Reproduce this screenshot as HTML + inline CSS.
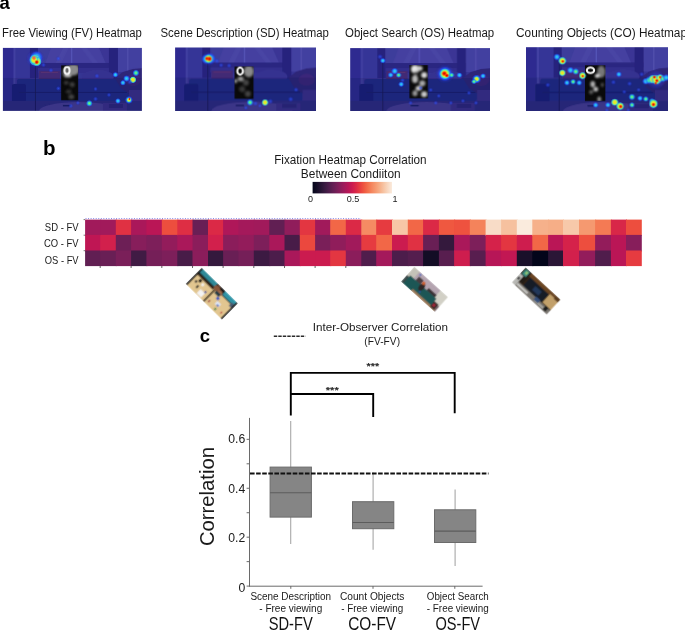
<!DOCTYPE html>
<html><head><meta charset="utf-8"><style>
html,body{margin:0;padding:0;background:#fff;}
body{width:685px;height:630px;overflow:hidden;position:relative;font-family:"Liberation Sans", sans-serif;}
svg{position:absolute;left:0;top:0;will-change:transform;}
text{font-family:"Liberation Sans", sans-serif;}
</style></head><body>
<svg width="685" height="630" viewBox="0 0 685 630">
<defs>
<linearGradient id="cbar" x1="0" y1="0" x2="1" y2="0">
<stop offset="0.00" stop-color="#03051a"/>
<stop offset="0.05" stop-color="#130d25"/>
<stop offset="0.10" stop-color="#251433"/>
<stop offset="0.15" stop-color="#381a40"/>
<stop offset="0.20" stop-color="#4c1d4b"/>
<stop offset="0.25" stop-color="#611f53"/>
<stop offset="0.30" stop-color="#751f58"/>
<stop offset="0.35" stop-color="#8b1d5b"/>
<stop offset="0.40" stop-color="#a11a5b"/>
<stop offset="0.45" stop-color="#b71657"/>
<stop offset="0.50" stop-color="#cb1b4f"/>
<stop offset="0.55" stop-color="#db2946"/>
<stop offset="0.60" stop-color="#e83f3f"/>
<stop offset="0.65" stop-color="#ef5840"/>
<stop offset="0.70" stop-color="#f3714d"/>
<stop offset="0.75" stop-color="#f58860"/>
<stop offset="0.80" stop-color="#f69c73"/>
<stop offset="0.85" stop-color="#f6b18b"/>
<stop offset="0.90" stop-color="#f7c6a6"/>
<stop offset="0.95" stop-color="#f8d9c3"/>
<stop offset="1.00" stop-color="#faebdd"/>
</linearGradient>
<filter id="soft" x="-5%" y="-5%" width="110%" height="110%"><feGaussianBlur stdDeviation="0.6"/></filter>
<filter id="blur1" x="-20%" y="-20%" width="140%" height="140%"><feGaussianBlur stdDeviation="0.9"/></filter>
<filter id="blur3" x="-30%" y="-30%" width="160%" height="160%"><feGaussianBlur stdDeviation="0.35"/></filter>
<filter id="tblur" x="-5%" y="-5%" width="110%" height="110%"><feGaussianBlur stdDeviation="0.9"/></filter>
<filter id="blur2" x="-5%" y="-5%" width="110%" height="110%"><feGaussianBlur stdDeviation="0.75"/></filter>
<radialGradient id="hb"><stop offset="0" stop-color="#3058ff" stop-opacity="0.75"/><stop offset="0.55" stop-color="#2a44e8" stop-opacity="0.4"/><stop offset="1" stop-color="#2030e0" stop-opacity="0"/></radialGradient>
<radialGradient id="hc"><stop offset="0" stop-color="#30e8e0"/><stop offset="0.45" stop-color="#2aa0ff"/><stop offset="0.8" stop-color="#2050ff" stop-opacity="0.6"/><stop offset="1" stop-color="#2040f0" stop-opacity="0"/></radialGradient>
<radialGradient id="hg"><stop offset="0" stop-color="#90ff50"/><stop offset="0.4" stop-color="#30e0c0"/><stop offset="0.75" stop-color="#2070ff" stop-opacity="0.7"/><stop offset="1" stop-color="#2040f0" stop-opacity="0"/></radialGradient>
<radialGradient id="hy"><stop offset="0" stop-color="#ffd820"/><stop offset="0.45" stop-color="#e0f030"/><stop offset="0.68" stop-color="#60f0a0"/><stop offset="0.85" stop-color="#30b0f0" stop-opacity="0.8"/><stop offset="1" stop-color="#2060f0" stop-opacity="0"/></radialGradient>
<radialGradient id="hp"><stop offset="0" stop-color="#f05050"/><stop offset="0.6" stop-color="#f07040" stop-opacity="0.8"/><stop offset="1" stop-color="#ffc000" stop-opacity="0"/></radialGradient>
<radialGradient id="hr"><stop offset="0" stop-color="#c00000"/><stop offset="0.5" stop-color="#ff3000"/><stop offset="1" stop-color="#ff8000" stop-opacity="0"/></radialGradient>
</defs>
<!-- panel labels -->
<text x="-0.6" y="9.2" font-size="18.5" font-weight="bold" text-anchor="start" fill="#000" >a</text>
<text x="42.9" y="154.8" font-size="20.5" font-weight="bold" text-anchor="start" fill="#000" >b</text>
<text x="199.8" y="341.5" font-size="18.5" font-weight="bold" text-anchor="start" fill="#000" >c</text>
<!-- section a titles -->
<text x="2.1" y="36.5" font-size="12" font-weight="normal" text-anchor="start" fill="#1a1a1a" textLength="139.8" lengthAdjust="spacingAndGlyphs" >Free Viewing (FV) Heatmap</text>
<text x="160.5" y="36.8" font-size="12" font-weight="normal" text-anchor="start" fill="#1a1a1a" textLength="168.4" lengthAdjust="spacingAndGlyphs" >Scene Description (SD) Heatmap</text>
<text x="345" y="36.5" font-size="12" font-weight="normal" text-anchor="start" fill="#1a1a1a" textLength="149.2" lengthAdjust="spacingAndGlyphs" >Object Search (OS) Heatmap</text>
<text x="516" y="36.5" font-size="12" font-weight="normal" text-anchor="start" fill="#1a1a1a" textLength="171" lengthAdjust="spacingAndGlyphs" >Counting Objects (CO) Heatmap</text>
<g transform="translate(2.9,47.9) scale(1.0000,1.0000)">
<svg x="0" y="0" width="138.6" height="62.8" overflow="hidden"><g filter="url(#soft)">
<rect x="-2" y="-2" width="144" height="67" fill="#3a389c"/>
<rect x="-2" y="-2" width="13.5" height="67" fill="#302f98"/>
<rect x="10.5" y="0" width="2.2" height="63" fill="#4846ac"/>
<rect x="12.7" y="0" width="14.3" height="40" fill="#3a38a0"/>
<rect x="27" y="0" width="8.5" height="30" fill="#282684"/>
<rect x="35" y="0" width="71" height="16" fill="#4a46aa"/>
<polygon points="35,0 48,0 42,16 35,16" fill="#4240a4"/>
<polygon points="60,0 66,0 58,16 52,16" fill="#4e4aae"/>
<polygon points="78,0 84,0 96,16 90,16" fill="#4e4aae"/>
<polygon points="96,0 106,0 106,16 103,16" fill="#3e3a9e"/>
<rect x="68" y="0" width="1.3" height="16" fill="#5c5ac2"/>
<rect x="35" y="15" width="80" height="5" fill="#2e2a88"/>
<rect x="35" y="20" width="80" height="5" fill="#363294"/>
<rect x="106" y="0" width="9" height="33" fill="#2a2784"/>
<rect x="115" y="0" width="27" height="24" fill="#4844aa"/>
<rect x="124" y="0" width="1.5" height="24" fill="#5654b6"/>
<rect x="36" y="23" width="21" height="10" fill="#482c7a"/>
<rect x="38" y="24" width="17" height="1" fill="#603478"/>
<ellipse cx="95" cy="29" rx="16" ry="7" fill="#3a3498"/>
<rect x="14" y="31" width="112" height="22" fill="#222e8e" rx="2"/>
<rect x="9" y="36" width="14" height="22" fill="#1c2480" rx="2"/>
<rect x="16" y="44" width="108" height="1" fill="#1a2276"/>
<polygon points="112,30 120,24 130,21 142,20 142,50 128,47 118,40" fill="#30287e"/>
<ellipse cx="130" cy="32" rx="8" ry="6" fill="#3e2a80"/>
<rect x="126" y="42" width="16" height="12" fill="#3a3292"/>
<rect x="-2" y="53" width="144" height="12" fill="#2c2c88"/>
<ellipse cx="76" cy="63" rx="40" ry="9" fill="#48409c"/>
<rect x="100" y="55" width="24" height="8" fill="#3a3692"/>
<rect x="106" y="56" width="14" height="4" fill="#2c2a84"/>
<rect x="60" y="57" width="8" height="1.4" fill="#1c2270"/>
<rect x="32" y="10" width="0.8" height="53" fill="#1c1c5e"/>
<rect x="-2" y="-2" width="144" height="67" fill="#0a0a30" opacity="0.08"/>
<rect x="-2" y="30" width="144" height="35" fill="#0a0a30" opacity="0.12"/>
</g>
<rect x="58.2" y="17.4" width="17.0" height="34.9" fill="#0a0a0a"/>
<svg x="58.2" y="17.4" width="17.0" height="34.9" overflow="hidden"><g filter="url(#blur1)">
<ellipse cx="12.24" cy="4.19" rx="6" ry="6" fill="#8a8a8a"/>
<ellipse cx="5.10" cy="6.98" rx="4" ry="5" fill="#666"/>
<ellipse cx="6.80" cy="10.47" rx="3.5" ry="1.6" fill="#cccccc"/>
<ellipse cx="5.10" cy="17.45" rx="2.5" ry="2" fill="#3a3a3a"/>
<ellipse cx="11.05" cy="19.20" rx="2.5" ry="2.5" fill="#404040"/>
<ellipse cx="7.65" cy="26.17" rx="3" ry="2" fill="#333"/>
<ellipse cx="10.20" cy="31.41" rx="3" ry="2.5" fill="#444"/>
</g><g filter="url(#blur3)">
<ellipse cx="5.95" cy="5.23" rx="2.6" ry="3.4" fill="none" stroke="#f8f8f8" stroke-width="2"/>
</g></svg>
<g filter="url(#blur2)">
<circle cx="32.5" cy="11" r="9.5" fill="url(#hb)"/>
<circle cx="33.5" cy="9.5" r="6.5" fill="url(#hc)"/>
<circle cx="32" cy="12" r="6" fill="url(#hy)"/>
<circle cx="33.8" cy="13.5" r="5" fill="url(#hy)"/>
<circle cx="31.2" cy="12" r="4.5" fill="url(#hy)"/>
<circle cx="31" cy="10" r="2.4" fill="url(#hp)"/>
<circle cx="33.8" cy="14.2" r="2.4" fill="url(#hr)"/>
<circle cx="55.4" cy="10.7" r="2.53" fill="url(#hb)"/>
<circle cx="40.5" cy="17" r="2.53" fill="url(#hb)"/>
<circle cx="48" cy="22.4" r="2.53" fill="url(#hb)"/>
<circle cx="94" cy="28" r="2.53" fill="url(#hb)"/>
<circle cx="55.4" cy="40.5" r="2.53" fill="url(#hb)"/>
<circle cx="92.6" cy="41" r="2.3" fill="url(#hb)"/>
<circle cx="106" cy="47" r="2.3" fill="url(#hb)"/>
<circle cx="112.5" cy="26.8" r="2.88" fill="url(#hc)"/>
<circle cx="123.6" cy="30.6" r="3.45" fill="url(#hc)"/>
<circle cx="130" cy="31.8" r="3.45" fill="url(#hy)"/>
<circle cx="133" cy="25" r="3.45" fill="url(#hg)"/>
<circle cx="120" cy="34.8" r="2.88" fill="url(#hc)"/>
<circle cx="127" cy="34" r="2.88" fill="url(#hb)"/>
<circle cx="126" cy="52" r="4.02" fill="url(#hc)"/>
<circle cx="126" cy="52" r="2.53" fill="url(#hy)"/>
<circle cx="126.5" cy="51" r="1.38" fill="url(#hr)"/>
<circle cx="86.4" cy="55.4" r="3.45" fill="url(#hg)"/>
<circle cx="92.6" cy="51" r="2.53" fill="url(#hb)"/>
<circle cx="115" cy="53" r="2.88" fill="url(#hc)"/>
<circle cx="67.8" cy="58" r="2.53" fill="url(#hb)"/>
<circle cx="75" cy="55" r="2.3" fill="url(#hb)"/>
</g>
</svg></g>
<g transform="translate(175.1,47.5) scale(1.0115,1.0048)">
<svg x="0" y="0" width="138.6" height="62.8" overflow="hidden"><g filter="url(#soft)">
<rect x="-2" y="-2" width="144" height="67" fill="#3a389c"/>
<rect x="-2" y="-2" width="13.5" height="67" fill="#302f98"/>
<rect x="10.5" y="0" width="2.2" height="63" fill="#4846ac"/>
<rect x="12.7" y="0" width="14.3" height="40" fill="#3a38a0"/>
<rect x="27" y="0" width="8.5" height="30" fill="#282684"/>
<rect x="35" y="0" width="71" height="16" fill="#4a46aa"/>
<polygon points="35,0 48,0 42,16 35,16" fill="#4240a4"/>
<polygon points="60,0 66,0 58,16 52,16" fill="#4e4aae"/>
<polygon points="78,0 84,0 96,16 90,16" fill="#4e4aae"/>
<polygon points="96,0 106,0 106,16 103,16" fill="#3e3a9e"/>
<rect x="68" y="0" width="1.3" height="16" fill="#5c5ac2"/>
<rect x="35" y="15" width="80" height="5" fill="#2e2a88"/>
<rect x="35" y="20" width="80" height="5" fill="#363294"/>
<rect x="106" y="0" width="9" height="33" fill="#2a2784"/>
<rect x="115" y="0" width="27" height="24" fill="#4844aa"/>
<rect x="124" y="0" width="1.5" height="24" fill="#5654b6"/>
<rect x="36" y="23" width="21" height="10" fill="#482c7a"/>
<rect x="38" y="24" width="17" height="1" fill="#603478"/>
<ellipse cx="95" cy="29" rx="16" ry="7" fill="#3a3498"/>
<rect x="14" y="31" width="112" height="22" fill="#222e8e" rx="2"/>
<rect x="9" y="36" width="14" height="22" fill="#1c2480" rx="2"/>
<rect x="16" y="44" width="108" height="1" fill="#1a2276"/>
<polygon points="112,30 120,24 130,21 142,20 142,50 128,47 118,40" fill="#30287e"/>
<ellipse cx="130" cy="32" rx="8" ry="6" fill="#3e2a80"/>
<rect x="126" y="42" width="16" height="12" fill="#3a3292"/>
<rect x="-2" y="53" width="144" height="12" fill="#2c2c88"/>
<ellipse cx="76" cy="63" rx="40" ry="9" fill="#48409c"/>
<rect x="100" y="55" width="24" height="8" fill="#3a3692"/>
<rect x="106" y="56" width="14" height="4" fill="#2c2a84"/>
<rect x="60" y="57" width="8" height="1.4" fill="#1c2270"/>
<rect x="32" y="10" width="0.8" height="53" fill="#1c1c5e"/>
<rect x="-2" y="-2" width="144" height="67" fill="#0a0a30" opacity="0.08"/>
<rect x="-2" y="30" width="144" height="35" fill="#0a0a30" opacity="0.12"/>
</g>
<rect x="58.8" y="19.0" width="18.7" height="32.0" fill="#0a0a0a"/>
<svg x="58.8" y="19.0" width="18.7" height="32.0" overflow="hidden"><g filter="url(#blur1)">
<ellipse cx="14.02" cy="4.80" rx="5" ry="6" fill="#8a8a8a"/>
<ellipse cx="5.98" cy="12.16" rx="3" ry="2.5" fill="#999"/>
<ellipse cx="0.94" cy="14.40" rx="1.5" ry="2" fill="#bbb"/>
<ellipse cx="11.22" cy="16.00" rx="3" ry="3" fill="#444"/>
<ellipse cx="7.48" cy="22.40" rx="3" ry="3" fill="#3a3a3a"/>
<ellipse cx="13.09" cy="27.20" rx="3" ry="3" fill="#444"/>
</g><g filter="url(#blur3)">
<ellipse cx="5.42" cy="4.48" rx="2.8" ry="3.4" fill="none" stroke="#f8f8f8" stroke-width="2"/>
</g></svg>
<g filter="url(#blur2)">
<circle cx="33" cy="11.3" r="7.5" fill="url(#hb)"/>
<circle cx="34.5" cy="11" r="5.5" fill="url(#hc)"/>
<circle cx="31" cy="11.5" r="5" fill="url(#hc)"/>
<circle cx="33" cy="11.3" r="4.6" fill="url(#hy)"/>
<circle cx="34" cy="11.3" r="2.8" fill="url(#hr)"/>
<circle cx="31.5" cy="11" r="2.2" fill="url(#hr)"/>
<circle cx="41.3" cy="13.4" r="2.76" fill="url(#hb)"/>
<circle cx="45.5" cy="17.6" r="2.53" fill="url(#hb)"/>
<circle cx="53.4" cy="18" r="2.53" fill="url(#hb)"/>
<circle cx="74.1" cy="54.7" r="3.45" fill="url(#hg)"/>
<circle cx="79.4" cy="55.7" r="2.76" fill="url(#hb)"/>
<circle cx="88.9" cy="54.7" r="3.45" fill="url(#hy)"/>
<circle cx="94.2" cy="53.6" r="2.76" fill="url(#hb)"/>
<circle cx="114.3" cy="51.5" r="2.76" fill="url(#hb)"/>
<circle cx="119.6" cy="42" r="2.53" fill="url(#hb)"/>
<circle cx="84" cy="58" r="2.3" fill="url(#hb)"/>
<circle cx="70" cy="60" r="2.3" fill="url(#hb)"/>
</g>
</svg></g>
<g transform="translate(350.2,48.1) scale(1.0065,0.9952)">
<svg x="0" y="0" width="138.6" height="62.8" overflow="hidden"><g filter="url(#soft)">
<rect x="-2" y="-2" width="144" height="67" fill="#3a389c"/>
<rect x="-2" y="-2" width="13.5" height="67" fill="#302f98"/>
<rect x="10.5" y="0" width="2.2" height="63" fill="#4846ac"/>
<rect x="12.7" y="0" width="14.3" height="40" fill="#3a38a0"/>
<rect x="27" y="0" width="8.5" height="30" fill="#282684"/>
<rect x="35" y="0" width="71" height="16" fill="#4a46aa"/>
<polygon points="35,0 48,0 42,16 35,16" fill="#4240a4"/>
<polygon points="60,0 66,0 58,16 52,16" fill="#4e4aae"/>
<polygon points="78,0 84,0 96,16 90,16" fill="#4e4aae"/>
<polygon points="96,0 106,0 106,16 103,16" fill="#3e3a9e"/>
<rect x="68" y="0" width="1.3" height="16" fill="#5c5ac2"/>
<rect x="35" y="15" width="80" height="5" fill="#2e2a88"/>
<rect x="35" y="20" width="80" height="5" fill="#363294"/>
<rect x="106" y="0" width="9" height="33" fill="#2a2784"/>
<rect x="115" y="0" width="27" height="24" fill="#4844aa"/>
<rect x="124" y="0" width="1.5" height="24" fill="#5654b6"/>
<rect x="36" y="23" width="21" height="10" fill="#482c7a"/>
<rect x="38" y="24" width="17" height="1" fill="#603478"/>
<ellipse cx="95" cy="29" rx="16" ry="7" fill="#3a3498"/>
<rect x="14" y="31" width="112" height="22" fill="#222e8e" rx="2"/>
<rect x="9" y="36" width="14" height="22" fill="#1c2480" rx="2"/>
<rect x="16" y="44" width="108" height="1" fill="#1a2276"/>
<polygon points="112,30 120,24 130,21 142,20 142,50 128,47 118,40" fill="#30287e"/>
<ellipse cx="130" cy="32" rx="8" ry="6" fill="#3e2a80"/>
<rect x="126" y="42" width="16" height="12" fill="#3a3292"/>
<rect x="-2" y="53" width="144" height="12" fill="#2c2c88"/>
<ellipse cx="76" cy="63" rx="40" ry="9" fill="#48409c"/>
<rect x="100" y="55" width="24" height="8" fill="#3a3692"/>
<rect x="106" y="56" width="14" height="4" fill="#2c2a84"/>
<rect x="60" y="57" width="8" height="1.4" fill="#1c2270"/>
<rect x="32" y="10" width="0.8" height="53" fill="#1c1c5e"/>
<rect x="-2" y="-2" width="144" height="67" fill="#0a0a30" opacity="0.08"/>
<rect x="-2" y="30" width="144" height="35" fill="#0a0a30" opacity="0.12"/>
</g>
<rect x="58.9" y="17.1" width="18.2" height="33.3" fill="#0a0a0a"/>
<svg x="58.9" y="17.1" width="18.2" height="33.3" overflow="hidden"><g filter="url(#blur1)">
<ellipse cx="5.46" cy="4.00" rx="4" ry="4" fill="#e8e8e8"/>
<ellipse cx="10.01" cy="3.33" rx="3" ry="2.5" fill="#ccc"/>
<ellipse cx="14.56" cy="9.99" rx="3" ry="3" fill="#ddd"/>
<ellipse cx="5.46" cy="13.99" rx="3" ry="4" fill="#bbb"/>
<ellipse cx="12.74" cy="18.32" rx="3" ry="3" fill="#aaa"/>
<ellipse cx="9.10" cy="23.31" rx="3" ry="2.5" fill="#ccc"/>
<ellipse cx="5.46" cy="28.30" rx="2.5" ry="3" fill="#999"/>
<ellipse cx="14.56" cy="29.30" rx="3" ry="3" fill="#ccc"/>
<ellipse cx="6.37" cy="8.32" rx="2" ry="2" fill="#444"/>
</g><g filter="url(#blur3)">
</g></svg>
<g filter="url(#blur2)">
<circle cx="29.7" cy="8.7" r="2.88" fill="url(#hb)"/>
<circle cx="32.4" cy="12.6" r="2.88" fill="url(#hc)"/>
<circle cx="44.2" cy="23.1" r="3.45" fill="url(#hc)"/>
<circle cx="48.1" cy="27.1" r="2.88" fill="url(#hg)"/>
<circle cx="40.2" cy="27" r="2.88" fill="url(#hc)"/>
<circle cx="52" cy="32.3" r="2.53" fill="url(#hb)"/>
<circle cx="94.1" cy="25.8" r="9.77" fill="url(#hb)"/>
<circle cx="94.1" cy="25.8" r="7.47" fill="url(#hc)"/>
<circle cx="94.1" cy="25.8" r="5.75" fill="url(#hy)"/>
<circle cx="93.5" cy="25.5" r="2.99" fill="url(#hr)"/>
<circle cx="96" cy="27.5" r="2.3" fill="url(#hr)"/>
<circle cx="100.7" cy="27.1" r="2.88" fill="url(#hg)"/>
<circle cx="108.5" cy="27.1" r="2.88" fill="url(#hc)"/>
<circle cx="125.6" cy="31" r="4.6" fill="url(#hc)"/>
<circle cx="125.6" cy="31" r="2.99" fill="url(#hy)"/>
<circle cx="123" cy="33.6" r="2.76" fill="url(#hg)"/>
<circle cx="132" cy="28" r="2.88" fill="url(#hc)"/>
<circle cx="50.7" cy="36.3" r="2.88" fill="url(#hc)"/>
<circle cx="80" cy="42" r="2.3" fill="url(#hb)"/>
<circle cx="88" cy="48" r="2.3" fill="url(#hb)"/>
<circle cx="85" cy="55" r="2.3" fill="url(#hb)"/>
<circle cx="100" cy="55" r="2.3" fill="url(#hb)"/>
<circle cx="112" cy="53" r="2.3" fill="url(#hb)"/>
<circle cx="118" cy="45" r="2.3" fill="url(#hb)"/>
<circle cx="125" cy="55" r="2.3" fill="url(#hb)"/>
<circle cx="60" cy="55" r="2.3" fill="url(#hb)"/>
<circle cx="70" cy="40" r="2.3" fill="url(#hb)"/>
</g>
</svg></g>
<g transform="translate(526,47.2) scale(1.0238,1.0159)">
<svg x="0" y="0" width="138.6" height="62.8" overflow="hidden"><g filter="url(#soft)">
<rect x="-2" y="-2" width="144" height="67" fill="#3a389c"/>
<rect x="-2" y="-2" width="13.5" height="67" fill="#302f98"/>
<rect x="10.5" y="0" width="2.2" height="63" fill="#4846ac"/>
<rect x="12.7" y="0" width="14.3" height="40" fill="#3a38a0"/>
<rect x="27" y="0" width="8.5" height="30" fill="#282684"/>
<rect x="35" y="0" width="71" height="16" fill="#4a46aa"/>
<polygon points="35,0 48,0 42,16 35,16" fill="#4240a4"/>
<polygon points="60,0 66,0 58,16 52,16" fill="#4e4aae"/>
<polygon points="78,0 84,0 96,16 90,16" fill="#4e4aae"/>
<polygon points="96,0 106,0 106,16 103,16" fill="#3e3a9e"/>
<rect x="68" y="0" width="1.3" height="16" fill="#5c5ac2"/>
<rect x="35" y="15" width="80" height="5" fill="#2e2a88"/>
<rect x="35" y="20" width="80" height="5" fill="#363294"/>
<rect x="106" y="0" width="9" height="33" fill="#2a2784"/>
<rect x="115" y="0" width="27" height="24" fill="#4844aa"/>
<rect x="124" y="0" width="1.5" height="24" fill="#5654b6"/>
<rect x="36" y="23" width="21" height="10" fill="#482c7a"/>
<rect x="38" y="24" width="17" height="1" fill="#603478"/>
<ellipse cx="95" cy="29" rx="16" ry="7" fill="#3a3498"/>
<rect x="14" y="31" width="112" height="22" fill="#222e8e" rx="2"/>
<rect x="9" y="36" width="14" height="22" fill="#1c2480" rx="2"/>
<rect x="16" y="44" width="108" height="1" fill="#1a2276"/>
<polygon points="112,30 120,24 130,21 142,20 142,50 128,47 118,40" fill="#30287e"/>
<ellipse cx="130" cy="32" rx="8" ry="6" fill="#3e2a80"/>
<rect x="126" y="42" width="16" height="12" fill="#3a3292"/>
<rect x="-2" y="53" width="144" height="12" fill="#2c2c88"/>
<ellipse cx="76" cy="63" rx="40" ry="9" fill="#48409c"/>
<rect x="100" y="55" width="24" height="8" fill="#3a3692"/>
<rect x="106" y="56" width="14" height="4" fill="#2c2a84"/>
<rect x="60" y="57" width="8" height="1.4" fill="#1c2270"/>
<rect x="32" y="10" width="0.8" height="53" fill="#1c1c5e"/>
<rect x="-2" y="-2" width="144" height="67" fill="#0a0a30" opacity="0.08"/>
<rect x="-2" y="30" width="144" height="35" fill="#0a0a30" opacity="0.12"/>
</g>
<rect x="57.6" y="17.8" width="19.9" height="35.099999999999994" fill="#0a0a0a"/>
<svg x="57.6" y="17.8" width="19.9" height="35.099999999999994" overflow="hidden"><g filter="url(#blur1)">
<ellipse cx="15.92" cy="6.32" rx="4" ry="6" fill="#777"/>
<ellipse cx="11.94" cy="10.53" rx="2.4" ry="1.8" fill="#e0e0e0"/>
<ellipse cx="7.56" cy="18.60" rx="2.4" ry="3" fill="#b0b0b0"/>
<ellipse cx="10.55" cy="23.52" rx="2.4" ry="2.4" fill="#c0c0c0"/>
<ellipse cx="13.93" cy="33.34" rx="2" ry="2.5" fill="#999"/>
<ellipse cx="16.91" cy="19.30" rx="1.5" ry="2" fill="#555"/>
<ellipse cx="5.97" cy="26.32" rx="2" ry="2" fill="#666"/>
</g><g filter="url(#blur3)">
<ellipse cx="5.37" cy="4.91" rx="3.6" ry="2.8" fill="none" stroke="#f8f8f8" stroke-width="2"/>
</g></svg>
<g filter="url(#blur2)">
<circle cx="30.2" cy="9.6" r="3.45" fill="url(#hc)"/>
<circle cx="35.5" cy="13.5" r="4.02" fill="url(#hy)"/>
<circle cx="36" cy="14" r="1.72" fill="url(#hr)"/>
<circle cx="43.4" cy="22.7" r="3.45" fill="url(#hc)"/>
<circle cx="48.6" cy="24" r="3.45" fill="url(#hg)"/>
<circle cx="35.5" cy="25.3" r="3.45" fill="url(#hy)"/>
<circle cx="55.2" cy="28" r="3.68" fill="url(#hy)"/>
<circle cx="55.5" cy="28.5" r="1.49" fill="url(#hr)"/>
<circle cx="40" cy="35" r="2.88" fill="url(#hc)"/>
<circle cx="46" cy="34" r="2.88" fill="url(#hg)"/>
<circle cx="52" cy="35" r="2.88" fill="url(#hc)"/>
<circle cx="90.7" cy="26.7" r="2.88" fill="url(#hc)"/>
<circle cx="113" cy="26.7" r="2.53" fill="url(#hb)"/>
<circle cx="127" cy="32" r="10" fill="url(#hb)"/>
<circle cx="117" cy="33.5" r="3.5" fill="url(#hc)"/>
<circle cx="120.5" cy="32.5" r="4" fill="url(#hg)"/>
<circle cx="124" cy="31.5" r="4.5" fill="url(#hy)"/>
<circle cx="127.5" cy="32" r="5" fill="url(#hy)"/>
<circle cx="131" cy="30.5" r="4" fill="url(#hy)"/>
<circle cx="134" cy="31" r="3.5" fill="url(#hg)"/>
<circle cx="137" cy="30" r="3.5" fill="url(#hc)"/>
<circle cx="125.5" cy="29.5" r="1.8" fill="url(#hr)"/>
<circle cx="127.8" cy="33" r="1.9" fill="url(#hr)"/>
<circle cx="126.8" cy="35.5" r="1.5" fill="url(#hr)"/>
<circle cx="131" cy="29.5" r="1.4" fill="url(#hr)"/>
<circle cx="103.5" cy="49" r="3.45" fill="url(#hg)"/>
<circle cx="111.4" cy="50.3" r="2.88" fill="url(#hc)"/>
<circle cx="117" cy="51" r="2.88" fill="url(#hg)"/>
<circle cx="123" cy="53" r="2.88" fill="url(#hg)"/>
<circle cx="124.5" cy="55.7" r="4.6" fill="url(#hy)"/>
<circle cx="124.5" cy="56.5" r="2.1" fill="url(#hr)"/>
<circle cx="86.7" cy="54.2" r="3.68" fill="url(#hy)"/>
<circle cx="92" cy="58.1" r="4.02" fill="url(#hy)"/>
<circle cx="92.5" cy="58.5" r="2.07" fill="url(#hr)"/>
<circle cx="80" cy="56.9" r="2.88" fill="url(#hc)"/>
<circle cx="68" cy="57" r="2.88" fill="url(#hc)"/>
<circle cx="103.5" cy="56.9" r="2.88" fill="url(#hg)"/>
<circle cx="79" cy="62" r="2.3" fill="url(#hb)"/>
<circle cx="100" cy="62" r="2.3" fill="url(#hb)"/>
<circle cx="85.4" cy="34.5" r="2.53" fill="url(#hb)"/>
<circle cx="101.2" cy="35.9" r="2.53" fill="url(#hb)"/>
<circle cx="21.3" cy="37.2" r="2.53" fill="url(#hb)"/>
<circle cx="110" cy="42" r="2.3" fill="url(#hb)"/>
<circle cx="96" cy="44" r="2.3" fill="url(#hb)"/>
</g>
</svg></g>
<!-- colorbar -->
<text x="350.4" y="163.8" font-size="12.2" font-weight="normal" text-anchor="middle" fill="#1a1a1a" textLength="152.5" lengthAdjust="spacingAndGlyphs" >Fixation Heatmap Correlation</text>
<text x="350.75" y="178.2" font-size="12.2" font-weight="normal" text-anchor="middle" fill="#1a1a1a" textLength="99.8" lengthAdjust="spacingAndGlyphs" >Between Condiiton</text>
<rect x="312.6" y="181.9" width="79.4" height="11.5" fill="url(#cbar)"/>
<text x="310.55" y="202.4" font-size="9" font-weight="normal" text-anchor="middle" fill="#1a1a1a" >0</text>
<text x="353.05" y="202.4" font-size="9" font-weight="normal" text-anchor="middle" fill="#1a1a1a" textLength="12.6" lengthAdjust="spacingAndGlyphs" >0.5</text>
<text x="394.9" y="202.4" font-size="9" font-weight="normal" text-anchor="middle" fill="#1a1a1a" >1</text>
<!-- heatmap -->
<rect x="85.10" y="219.60" width="16.10" height="16.30" fill="#a11a5b"/>
<rect x="85.10" y="234.90" width="16.10" height="16.60" fill="#bf1654"/>
<rect x="85.10" y="250.50" width="16.10" height="15.60" fill="#611f53"/>
<rect x="100.20" y="219.60" width="16.60" height="16.30" fill="#a11a5b"/>
<rect x="100.20" y="234.90" width="16.60" height="16.60" fill="#d2204c"/>
<rect x="100.20" y="250.50" width="16.60" height="15.60" fill="#691f55"/>
<rect x="115.80" y="219.60" width="16.30" height="16.30" fill="#e03143"/>
<rect x="115.80" y="234.90" width="16.30" height="16.60" fill="#6d1f56"/>
<rect x="115.80" y="250.50" width="16.30" height="15.60" fill="#7a1f59"/>
<rect x="131.10" y="219.60" width="16.30" height="16.30" fill="#aa185a"/>
<rect x="131.10" y="234.90" width="16.30" height="16.60" fill="#871e5b"/>
<rect x="131.10" y="250.50" width="16.30" height="15.60" fill="#401b44"/>
<rect x="146.40" y="219.60" width="16.40" height="16.30" fill="#ba1656"/>
<rect x="146.40" y="234.90" width="16.40" height="16.60" fill="#7d1f5a"/>
<rect x="146.40" y="250.50" width="16.40" height="15.60" fill="#751f58"/>
<rect x="161.80" y="219.60" width="16.50" height="16.30" fill="#ed4e3e"/>
<rect x="161.80" y="234.90" width="16.50" height="16.60" fill="#931c5b"/>
<rect x="161.80" y="250.50" width="16.50" height="15.60" fill="#7d1f5a"/>
<rect x="177.30" y="219.60" width="16.20" height="16.30" fill="#de2e44"/>
<rect x="177.30" y="234.90" width="16.20" height="16.60" fill="#aa185a"/>
<rect x="177.30" y="250.50" width="16.20" height="15.60" fill="#481c48"/>
<rect x="192.50" y="219.60" width="16.50" height="16.30" fill="#691f55"/>
<rect x="192.50" y="234.90" width="16.50" height="16.60" fill="#8b1d5b"/>
<rect x="192.50" y="250.50" width="16.50" height="15.60" fill="#8b1d5b"/>
<rect x="208.00" y="219.60" width="16.10" height="16.30" fill="#db2946"/>
<rect x="208.00" y="234.90" width="16.10" height="16.60" fill="#d2204c"/>
<rect x="208.00" y="250.50" width="16.10" height="15.60" fill="#34193d"/>
<rect x="223.10" y="219.60" width="16.30" height="16.30" fill="#af1759"/>
<rect x="223.10" y="234.90" width="16.30" height="16.60" fill="#8b1d5b"/>
<rect x="223.10" y="250.50" width="16.30" height="15.60" fill="#691f55"/>
<rect x="238.40" y="219.60" width="16.40" height="16.30" fill="#a4195b"/>
<rect x="238.40" y="234.90" width="16.40" height="16.60" fill="#931c5b"/>
<rect x="238.40" y="250.50" width="16.40" height="15.60" fill="#751f58"/>
<rect x="253.80" y="219.60" width="16.50" height="16.30" fill="#a11a5b"/>
<rect x="253.80" y="234.90" width="16.50" height="16.60" fill="#7d1f5a"/>
<rect x="253.80" y="250.50" width="16.50" height="15.60" fill="#3c1a42"/>
<rect x="269.30" y="219.60" width="16.20" height="16.30" fill="#611f53"/>
<rect x="269.30" y="234.90" width="16.20" height="16.60" fill="#aa185a"/>
<rect x="269.30" y="250.50" width="16.20" height="15.60" fill="#4c1d4b"/>
<rect x="284.50" y="219.60" width="16.30" height="16.30" fill="#901d5b"/>
<rect x="284.50" y="234.90" width="16.30" height="16.60" fill="#481c48"/>
<rect x="284.50" y="250.50" width="16.30" height="15.60" fill="#aa185a"/>
<rect x="299.80" y="219.60" width="16.30" height="16.30" fill="#e33641"/>
<rect x="299.80" y="234.90" width="16.30" height="16.60" fill="#eb483e"/>
<rect x="299.80" y="250.50" width="16.30" height="15.60" fill="#cb1b4f"/>
<rect x="315.10" y="219.60" width="16.10" height="16.30" fill="#a11a5b"/>
<rect x="315.10" y="234.90" width="16.10" height="16.60" fill="#7a1f59"/>
<rect x="315.10" y="250.50" width="16.10" height="15.60" fill="#cb1b4f"/>
<rect x="330.20" y="219.60" width="16.60" height="16.30" fill="#f26747"/>
<rect x="330.20" y="234.90" width="16.60" height="16.60" fill="#901d5b"/>
<rect x="330.20" y="250.50" width="16.60" height="15.60" fill="#e33641"/>
<rect x="345.80" y="219.60" width="16.50" height="16.30" fill="#db2946"/>
<rect x="345.80" y="234.90" width="16.50" height="16.60" fill="#a11a5b"/>
<rect x="345.80" y="250.50" width="16.50" height="15.60" fill="#8b1d5b"/>
<rect x="361.30" y="219.60" width="15.90" height="16.30" fill="#f58b63"/>
<rect x="361.30" y="234.90" width="15.90" height="16.60" fill="#e63b40"/>
<rect x="361.30" y="250.50" width="15.90" height="15.60" fill="#501d4c"/>
<rect x="376.20" y="219.60" width="16.80" height="16.30" fill="#e63b40"/>
<rect x="376.20" y="234.90" width="16.80" height="16.60" fill="#f26747"/>
<rect x="376.20" y="250.50" width="16.80" height="15.60" fill="#a4195b"/>
<rect x="392.00" y="219.60" width="16.80" height="16.30" fill="#f7c6a6"/>
<rect x="392.00" y="234.90" width="16.80" height="16.60" fill="#cb1b4f"/>
<rect x="392.00" y="250.50" width="16.80" height="15.60" fill="#4c1d4b"/>
<rect x="407.80" y="219.60" width="16.30" height="16.30" fill="#f26747"/>
<rect x="407.80" y="234.90" width="16.30" height="16.60" fill="#e03143"/>
<rect x="407.80" y="250.50" width="16.30" height="15.60" fill="#541e4e"/>
<rect x="423.10" y="219.60" width="16.80" height="16.30" fill="#db2946"/>
<rect x="423.10" y="234.90" width="16.80" height="16.60" fill="#691f55"/>
<rect x="423.10" y="250.50" width="16.80" height="15.60" fill="#130d25"/>
<rect x="438.90" y="219.60" width="16.20" height="16.30" fill="#ef5840"/>
<rect x="438.90" y="234.90" width="16.20" height="16.60" fill="#34193d"/>
<rect x="438.90" y="250.50" width="16.20" height="15.60" fill="#581e4f"/>
<rect x="454.10" y="219.60" width="16.70" height="16.30" fill="#ee523f"/>
<rect x="454.10" y="234.90" width="16.70" height="16.60" fill="#aa185a"/>
<rect x="454.10" y="250.50" width="16.70" height="15.60" fill="#ce1d4e"/>
<rect x="469.80" y="219.60" width="16.80" height="16.30" fill="#f4835b"/>
<rect x="469.80" y="234.90" width="16.80" height="16.60" fill="#7d1f5a"/>
<rect x="469.80" y="250.50" width="16.80" height="15.60" fill="#581e4f"/>
<rect x="485.60" y="219.60" width="16.50" height="16.30" fill="#f8dcc7"/>
<rect x="485.60" y="234.90" width="16.50" height="16.60" fill="#d5224a"/>
<rect x="485.60" y="250.50" width="16.50" height="15.60" fill="#b71657"/>
<rect x="501.10" y="219.60" width="16.70" height="16.30" fill="#f6c19f"/>
<rect x="501.10" y="234.90" width="16.70" height="16.60" fill="#e33641"/>
<rect x="501.10" y="250.50" width="16.70" height="15.60" fill="#c21753"/>
<rect x="516.80" y="219.60" width="16.50" height="16.30" fill="#faebdd"/>
<rect x="516.80" y="234.90" width="16.50" height="16.60" fill="#ce1d4e"/>
<rect x="516.80" y="250.50" width="16.50" height="15.60" fill="#1a102a"/>
<rect x="532.30" y="219.60" width="16.80" height="16.30" fill="#f6b18b"/>
<rect x="532.30" y="234.90" width="16.80" height="16.60" fill="#f26747"/>
<rect x="532.30" y="250.50" width="16.80" height="15.60" fill="#03051a"/>
<rect x="548.10" y="219.60" width="15.90" height="16.30" fill="#f6ae87"/>
<rect x="548.10" y="234.90" width="15.90" height="16.60" fill="#ba1656"/>
<rect x="548.10" y="250.50" width="15.90" height="15.60" fill="#2a1636"/>
<rect x="563.00" y="219.60" width="17.00" height="16.30" fill="#f7c9aa"/>
<rect x="563.00" y="234.90" width="17.00" height="16.60" fill="#d5224a"/>
<rect x="563.00" y="250.50" width="17.00" height="15.60" fill="#d2204c"/>
<rect x="579.00" y="219.60" width="17.10" height="16.30" fill="#f59970"/>
<rect x="579.00" y="234.90" width="17.10" height="16.60" fill="#ed4e3e"/>
<rect x="579.00" y="250.50" width="17.10" height="15.60" fill="#931c5b"/>
<rect x="595.10" y="219.60" width="16.80" height="16.30" fill="#f47a54"/>
<rect x="595.10" y="234.90" width="16.80" height="16.60" fill="#931c5b"/>
<rect x="595.10" y="250.50" width="16.80" height="15.60" fill="#501d4c"/>
<rect x="610.90" y="219.60" width="16.10" height="16.30" fill="#d82748"/>
<rect x="610.90" y="234.90" width="16.10" height="16.60" fill="#ba1656"/>
<rect x="610.90" y="250.50" width="16.10" height="15.60" fill="#ba1656"/>
<rect x="626.00" y="219.60" width="15.80" height="16.30" fill="#ed4e3e"/>
<rect x="626.00" y="234.90" width="15.80" height="16.60" fill="#871e5b"/>
<rect x="626.00" y="250.50" width="15.80" height="15.60" fill="#e63b40"/>
<line x1="85.5" y1="218.5" x2="361" y2="218.5" stroke="#8a8ae8" stroke-width="1" stroke-dasharray="1 1.55"/>
<line x1="100.20" y1="266" x2="100.20" y2="268" stroke="#666" stroke-width="1"/>
<line x1="131.10" y1="266" x2="131.10" y2="268" stroke="#666" stroke-width="1"/>
<line x1="161.80" y1="266" x2="161.80" y2="268" stroke="#666" stroke-width="1"/>
<line x1="192.50" y1="266" x2="192.50" y2="268" stroke="#666" stroke-width="1"/>
<line x1="223.10" y1="266" x2="223.10" y2="268" stroke="#666" stroke-width="1"/>
<line x1="253.80" y1="266" x2="253.80" y2="268" stroke="#666" stroke-width="1"/>
<line x1="284.50" y1="266" x2="284.50" y2="268" stroke="#666" stroke-width="1"/>
<line x1="315.10" y1="266" x2="315.10" y2="268" stroke="#666" stroke-width="1"/>
<line x1="345.80" y1="266" x2="345.80" y2="268" stroke="#666" stroke-width="1"/>
<line x1="83.6" y1="219.60000000000002" x2="85.1" y2="219.60000000000002" stroke="#555" stroke-width="0.8"/>
<line x1="83.6" y1="235.20000000000002" x2="85.1" y2="235.20000000000002" stroke="#555" stroke-width="0.8"/>
<line x1="83.6" y1="250.70000000000002" x2="85.1" y2="250.70000000000002" stroke="#555" stroke-width="0.8"/>
<g transform="translate(211.8,293.7) rotate(44.6)"><svg x="-25.40" y="-11.40" width="50.8" height="22.8" viewBox="0 0 100 40" preserveAspectRatio="none" overflow="hidden"><g filter="url(#tblur)"><rect x="0" y="0" width="100" height="40" fill="#e2c690"/><rect x="0" y="0" width="100" height="10" fill="#141414"/><rect x="0" y="0" width="44" height="8" fill="#2e8a98"/><rect x="66" y="0" width="34" height="8" fill="#2e94a6"/><rect x="0" y="0" width="4" height="40" fill="#151515"/><rect x="96" y="0" width="4" height="40" fill="#222"/><rect x="4" y="10" width="42" height="4" fill="#3a2a1a"/><rect x="47" y="8" width="3.5" height="32" fill="#201810"/><ellipse cx="50" cy="7" rx="7" ry="5" fill="#8a5638"/><ellipse cx="60" cy="10" rx="6" ry="5" fill="#a06a48"/><rect x="52" y="10" width="12" height="6" fill="#1d3a44"/><circle cx="16" cy="18" r="3.2" fill="#111"/><circle cx="11" cy="24" r="2.5" fill="#2a2a2a"/><circle cx="25" cy="20" r="2.8" fill="#f2f2f2"/><rect x="18" y="26" width="4" height="6" fill="#222"/><rect x="28" y="28" width="12" height="10" fill="#f4f4f4"/><rect x="37" y="24" width="4" height="4" fill="#3a4a9a"/><rect x="62" y="16" width="6" height="5" fill="#2850c0"/><rect x="68" y="22" width="10" height="7" fill="#dfe6f4"/><rect x="72" y="26" width="5" height="3" fill="#3060c0"/><rect x="74" y="33" width="4" height="4" fill="#3a8a4a"/><rect x="88" y="30" width="3" height="4" fill="#c04040"/><rect x="55" y="30" width="3" height="5" fill="#a03040"/><rect x="90" y="6" width="6" height="8" fill="#4a5a70"/></g></svg></g>
<g transform="translate(424.45,289.35) rotate(42)"><svg x="-22.60" y="-10.00" width="45.2" height="20" viewBox="0 0 100 40" preserveAspectRatio="none" overflow="hidden"><g filter="url(#tblur)"><rect x="0" y="0" width="100" height="40" fill="#7a6a70"/><rect x="0" y="0" width="100" height="18" fill="#b4a4b0"/><rect x="0" y="0" width="16" height="22" fill="#c4c2b8"/><rect x="0" y="22" width="10" height="18" fill="#3a4a4a"/><rect x="78" y="0" width="22" height="26" fill="#d2d0c6"/><rect x="20" y="2" width="4" height="4" fill="#5070c0"/><rect x="22" y="8" width="14" height="10" fill="#4a3a40"/><rect x="55" y="12" width="24" height="10" fill="#3a3036"/><rect x="6" y="18" width="78" height="22" fill="#1c5654"/><rect x="30" y="35" width="68" height="5" fill="#9a7a5a"/><ellipse cx="42" cy="20" rx="6" ry="9" fill="#2a2628"/><ellipse cx="40" cy="12" rx="3.5" ry="3.5" fill="#d0602a"/><circle cx="46" cy="30" r="2" fill="#3050b0"/><rect x="84" y="24" width="12" height="14" fill="#3a2a2a"/><rect x="86" y="28" width="6" height="6" fill="#a02838"/></g></svg></g>
<g transform="translate(536.2,290.9) rotate(42.7)"><svg x="-23.65" y="-10.15" width="47.3" height="20.3" viewBox="0 0 100 40" preserveAspectRatio="none" overflow="hidden"><g filter="url(#tblur)"><rect x="0" y="0" width="100" height="40" fill="#2e2219"/><rect x="0" y="0" width="100" height="8" fill="#6a4424"/><rect x="22" y="8" width="52" height="22" fill="#161c28"/><rect x="42" y="14" width="18" height="10" fill="#22385a"/><rect x="76" y="6" width="24" height="22" fill="#c2a06a"/><rect x="88" y="0" width="12" height="8" fill="#5a3a1c"/><rect x="0" y="30" width="100" height="10" fill="#7a7670"/><rect x="10" y="33" width="30" height="4" fill="#c8c8c4"/><rect x="60" y="34" width="25" height="3" fill="#b0b0aa"/><rect x="0" y="0" width="18" height="28" fill="#221c18"/><rect x="3" y="2" width="11" height="12" fill="#3a8a80"/><rect x="7" y="4" width="5" height="6" fill="#90c870"/><rect x="0" y="16" width="9" height="24" fill="#b8b8b4"/><rect x="2" y="22" width="5" height="6" fill="#3a3a3a"/><rect x="58" y="28" width="12" height="8" fill="#34507a"/><rect x="86" y="28" width="8" height="10" fill="#1a1a1a"/></g></svg></g>
<!-- row labels -->
<text x="78.6" y="231.2" font-size="10.5" font-weight="normal" text-anchor="end" fill="#1a1a1a" textLength="33.8" lengthAdjust="spacingAndGlyphs" >SD - FV</text>
<text x="78.6" y="247" font-size="10.5" font-weight="normal" text-anchor="end" fill="#1a1a1a" textLength="34.6" lengthAdjust="spacingAndGlyphs" >CO - FV</text>
<text x="78.6" y="263.8" font-size="10.5" font-weight="normal" text-anchor="end" fill="#1a1a1a" textLength="33.8" lengthAdjust="spacingAndGlyphs" >OS - FV</text>

<!-- section c legend -->
<line x1="273.8" y1="336.2" x2="305.5" y2="336.2" stroke="#2a2a2a" stroke-width="1.4" stroke-dasharray="3.4 1.1"/>
<text x="312.7" y="331.3" font-size="11.5" font-weight="normal" text-anchor="start" fill="#1a1a1a" textLength="135.4" lengthAdjust="spacingAndGlyphs" >Inter-Observer Correlation</text>
<text x="382.2" y="345.3" font-size="11.5" font-weight="normal" text-anchor="middle" fill="#1a1a1a" textLength="35.7" lengthAdjust="spacingAndGlyphs" >(FV-FV)</text>
<!-- significance brackets -->
<polyline points="290.8,415.5 290.8,372.9 454.7,372.9 454.7,413.3" fill="none" stroke="#000" stroke-width="1.9"/>
<polyline points="290.8,394 373.2,394 373.2,417" fill="none" stroke="#000" stroke-width="1.9"/>
<text x="372.9" y="368.5" font-size="8.5" font-weight="normal" text-anchor="middle" fill="#222" textLength="12.8" lengthAdjust="spacingAndGlyphs" stroke="#222" stroke-width="0.25">***</text>
<text x="332.3" y="392.5" font-size="8.5" font-weight="normal" text-anchor="middle" fill="#222" textLength="13.2" lengthAdjust="spacingAndGlyphs" stroke="#222" stroke-width="0.25">***</text>
<!-- axes -->
<line x1="249.5" y1="417.9" x2="249.5" y2="586.5" stroke="#6a6a6a" stroke-width="1"/>
<line x1="249" y1="586.2" x2="482.6" y2="586.2" stroke="#6a6a6a" stroke-width="1"/>
<line x1="246.6" y1="586.10" x2="249.5" y2="586.10" stroke="#6a6a6a" stroke-width="1"/>
<line x1="246.6" y1="561.64" x2="249.5" y2="561.64" stroke="#6a6a6a" stroke-width="1"/>
<line x1="246.6" y1="537.18" x2="249.5" y2="537.18" stroke="#6a6a6a" stroke-width="1"/>
<line x1="246.6" y1="512.72" x2="249.5" y2="512.72" stroke="#6a6a6a" stroke-width="1"/>
<line x1="246.6" y1="488.26" x2="249.5" y2="488.26" stroke="#6a6a6a" stroke-width="1"/>
<line x1="246.6" y1="463.80" x2="249.5" y2="463.80" stroke="#6a6a6a" stroke-width="1"/>
<line x1="246.6" y1="439.34" x2="249.5" y2="439.34" stroke="#6a6a6a" stroke-width="1"/>
<text x="245.2" y="591.7" font-size="12.2" font-weight="normal" text-anchor="end" fill="#1a1a1a" >0</text>
<text x="245.2" y="541.9" font-size="12.2" font-weight="normal" text-anchor="end" fill="#1a1a1a" >0.2</text>
<text x="245.2" y="492.6" font-size="12.2" font-weight="normal" text-anchor="end" fill="#1a1a1a" >0.4</text>
<text x="245.2" y="443.4" font-size="12.2" font-weight="normal" text-anchor="end" fill="#1a1a1a" >0.6</text>
<line x1="290.8" y1="586" x2="290.8" y2="588.8" stroke="#6a6a6a" stroke-width="1"/>
<line x1="373.0" y1="586" x2="373.0" y2="588.8" stroke="#6a6a6a" stroke-width="1"/>
<line x1="454.8" y1="586" x2="454.8" y2="588.8" stroke="#6a6a6a" stroke-width="1"/>
<!-- boxes -->
<line x1="290.7" y1="421.1" x2="290.7" y2="544" stroke="#a8a8a8" stroke-width="1.1"/>
<rect x="270.10" y="467.1" width="41.3" height="50.00" fill="#858585" stroke="#6b6b6b" stroke-width="1"/>
<line x1="270.10" y1="492.7" x2="311.40" y2="492.7" stroke="#5c5c5c" stroke-width="1.1"/>
<line x1="373.1" y1="472.5" x2="373.1" y2="549.7" stroke="#a8a8a8" stroke-width="1.1"/>
<rect x="352.50" y="501.7" width="41.3" height="27.00" fill="#858585" stroke="#6b6b6b" stroke-width="1"/>
<line x1="352.50" y1="522.5" x2="393.80" y2="522.5" stroke="#5c5c5c" stroke-width="1.1"/>
<line x1="455.1" y1="489.6" x2="455.1" y2="565.9" stroke="#a8a8a8" stroke-width="1.1"/>
<rect x="434.50" y="509.8" width="41.3" height="32.70" fill="#858585" stroke="#6b6b6b" stroke-width="1"/>
<line x1="434.50" y1="531.1" x2="475.80" y2="531.1" stroke="#5c5c5c" stroke-width="1.1"/>
<!-- reference dashed line -->
<line x1="250" y1="473.6" x2="488.5" y2="473.6" stroke="#111" stroke-width="2" stroke-dasharray="4.6 1.5"/>
<!-- labels -->
<text x="214.3" y="496.5" font-size="21" fill="#1a1a1a" text-anchor="middle" transform="rotate(-90 214.3 496.5)" textLength="99" lengthAdjust="spacingAndGlyphs">Correlation</text>
<text x="290.75" y="599.7" font-size="10" font-weight="normal" text-anchor="middle" fill="#1a1a1a" textLength="80.7" lengthAdjust="spacingAndGlyphs" >Scene Description</text>
<text x="290.75" y="612.2" font-size="10" font-weight="normal" text-anchor="middle" fill="#1a1a1a" textLength="63" lengthAdjust="spacingAndGlyphs" >- Free viewing</text>
<text x="290.75" y="630.2" font-size="17.5" font-weight="normal" text-anchor="middle" fill="#111" textLength="44" lengthAdjust="spacingAndGlyphs" >SD-FV</text>
<text x="372.2" y="599.7" font-size="10" font-weight="normal" text-anchor="middle" fill="#1a1a1a" textLength="64.5" lengthAdjust="spacingAndGlyphs" >Count Objects</text>
<text x="372.2" y="612.2" font-size="10" font-weight="normal" text-anchor="middle" fill="#1a1a1a" textLength="62" lengthAdjust="spacingAndGlyphs" >- Free viewing</text>
<text x="372.2" y="630.2" font-size="17.5" font-weight="normal" text-anchor="middle" fill="#111" textLength="47.9" lengthAdjust="spacingAndGlyphs" >CO-FV</text>
<text x="457.8" y="599.7" font-size="10" font-weight="normal" text-anchor="middle" fill="#1a1a1a" textLength="62" lengthAdjust="spacingAndGlyphs" >Object Search</text>
<text x="457.8" y="612.2" font-size="10" font-weight="normal" text-anchor="middle" fill="#1a1a1a" textLength="62" lengthAdjust="spacingAndGlyphs" >- Free viewing</text>
<text x="457.8" y="630.2" font-size="17.5" font-weight="normal" text-anchor="middle" fill="#111" textLength="44.6" lengthAdjust="spacingAndGlyphs" >OS-FV</text>
</svg>
</body></html>
